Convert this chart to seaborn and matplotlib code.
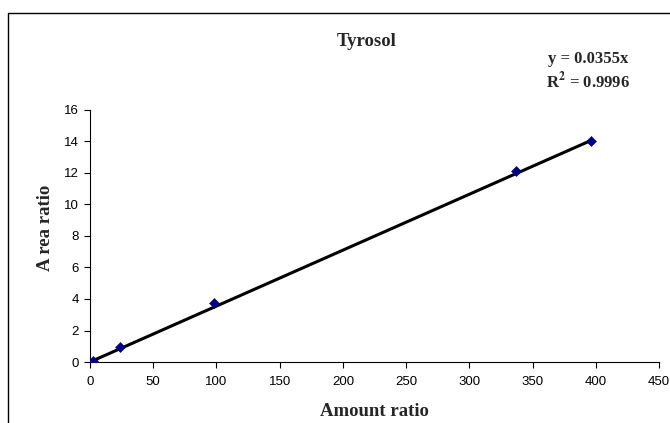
import numpy as np
import pandas as pd
import matplotlib
matplotlib.use("Agg")
import matplotlib.pyplot as plt
import seaborn as sns
from matplotlib.patches import Rectangle

# Calibration data for tyrosol
amount_ratio = [2, 24, 98, 337, 396]
area_ratio = [0.07, 0.97, 3.72, 12.1, 14.0]
slope = 0.0355
r_squared = 0.9996

x_ticks = [0, 50, 100, 150, 200, 250, 300, 350, 400, 450]
y_ticks = [0, 2, 4, 6, 8, 10, 12, 14, 16]

points = pd.DataFrame({"amount": amount_ratio, "area": area_ratio})
fit_x = [min(amount_ratio), max(amount_ratio)]
fit = pd.DataFrame({"amount": fit_x, "area": [slope * v for v in fit_x]})

sns.set_theme(style="white")
plt.rcParams["font.family"] = ["Liberation Sans", "DejaVu Sans"]
plt.rcParams["mathtext.fontset"] = "stix"

fig = plt.figure(figsize=(6.7, 4.23), dpi=100)
ax = fig.add_axes([0.1343, 0.1442, 0.8493, 0.5958])

sns.lineplot(data=fit, x="amount", y="area", ax=ax, color="black",
             linewidth=2.2, zorder=2)
sns.scatterplot(data=points, x="amount", y="area", ax=ax, marker="D",
                color="#000080", edgecolor="#000080", s=26, zorder=3)

ax.set_xlim(0, 450)
ax.set_ylim(0, 16)
ax.set_xticks(x_ticks)
ax.set_yticks(y_ticks)
ax.tick_params(axis="both", direction="out", length=4, width=0.8,
               color="black", labelsize=9.5, labelcolor="black",
               bottom=True, left=True)
ax.tick_params(axis="x", pad=6)
ax.tick_params(axis="y", pad=4)
ax.set_xlabel("")
ax.set_ylabel("")
for side in ("top", "right"):
    ax.spines[side].set_visible(False)
for side in ("left", "bottom"):
    ax.spines[side].set_color("black")
    ax.spines[side].set_linewidth(0.8)
ax.set_facecolor("white")

serif = ["Liberation Serif", "DejaVu Serif"]
W, H = 670, 423
fig.text(367 / W, 1 - 46 / H, "Tyrosol", ha="center", va="baseline",
         fontsize=13.5, fontweight="bold", family=serif)
fig.text(374 / W, 1 - 415.5 / H, "Amount ratio", ha="center", va="baseline",
         fontsize=13.5, fontweight="bold", family=serif)
fig.text(45 / W, 1 - 227.5 / H, "A rea ratio", ha="center", va="center",
         rotation=90, fontsize=13.5, fontweight="bold", family=serif)
fig.text(588 / W, 1 - 63 / H, f"y = {slope}x", ha="center", va="baseline",
         fontsize=12, fontweight="bold", family=serif)
fig.text(588 / W, 1 - 88 / H, f"R$^{{\\mathbf{{2}}}}$ = {r_squared}", ha="center",
         va="baseline", fontsize=12, fontweight="bold", family=serif)

# Chart area border
fig.patches.append(Rectangle((8 / W, -0.05), 1.2, 1 - 13 / H + 0.05,
                             transform=fig.transFigure, fill=False,
                             edgecolor="black", linewidth=1.0))

fig.savefig("out.png", dpi=100, facecolor="white")
